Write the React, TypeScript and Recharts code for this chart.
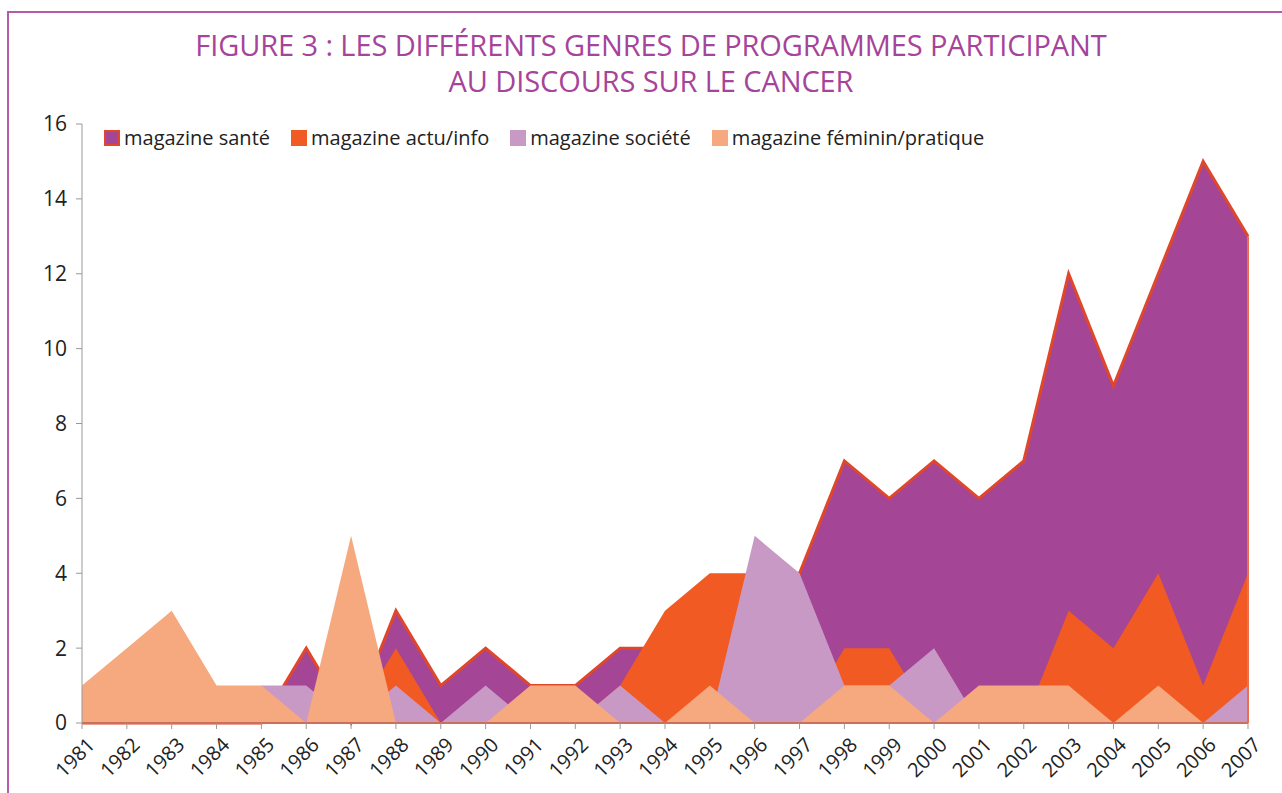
import React from "react";
import { AreaChart, Area, XAxis, YAxis, ReferenceLine } from "recharts";

const years = [
  "1981", "1982", "1983", "1984", "1985", "1986", "1987", "1988", "1989",
  "1990", "1991", "1992", "1993", "1994", "1995", "1996", "1997", "1998",
  "1999", "2000", "2001", "2002", "2003", "2004", "2005", "2006", "2007",
];
const sante = [0, 0, 0, 0, 0, 2, 0, 3, 1, 2, 1, 1, 2, 2, 3, 4, 4, 7, 6, 7, 6, 7, 12, 9, 12, 15, 13];
const actu = [0, 0, 0, 0, 0, 0, 0, 2, 0, 0, 0, 0, 1, 3, 4, 4, 0, 2, 2, 0, 0, 0, 3, 2, 4, 1, 4];
const societe = [0, 0, 0, 0, 1, 1, 0, 1, 0, 1, 0, 0, 1, 0, 0, 5, 4, 1, 1, 2, 0, 0, 0, 0, 0, 0, 1];
const feminin = [1, 2, 3, 1, 1, 0, 5, 0, 0, 0, 1, 1, 0, 0, 1, 0, 0, 1, 1, 0, 1, 1, 1, 0, 1, 0, 0];
const yTicks = [0, 2, 4, 6, 8, 10, 12, 14, 16];

const series = [
  { key: "sante", name: "magazine santé", fill: "#a44596", stroke: "#e0472a" },
  { key: "actu", name: "magazine actu/info", fill: "#f15a22", stroke: "none" },
  { key: "societe", name: "magazine société", fill: "#c899c5", stroke: "none" },
  { key: "feminin", name: "magazine féminin/pratique", fill: "#f6a87e", stroke: "none" },
];

const data = years.map((y, i) => ({
  year: y,
  sante: sante[i],
  actu: actu[i],
  societe: societe[i],
  feminin: feminin[i],
}));

const lastYear = years[years.length - 1];
const lastSante = sante[sante.length - 1];

const FONT = "'Open Sans', sans-serif";

const YearTick = (props: any) => {
  const { x, y, payload } = props;
  return (
    <g transform={`translate(${x + 4},${y + 5}) rotate(-45)`}>
      <text textAnchor="end" dy="0.72em" fontSize={20} fontFamily={FONT} fill="#222">
        {payload.value}
      </text>
    </g>
  );
};

// legend drawn as plain html above the plot, so it does not push the plot down
const LegendBox = () => (
  <div
    style={{
      position: "absolute",
      left: 104,
      top: 126,
      display: "flex",
      fontFamily: FONT,
      fontSize: 20,
      lineHeight: "24px",
      color: "#222",
    }}
  >
    {series.map((s) => (
      <div key={s.key} style={{ display: "flex", alignItems: "center", marginRight: 21 }}>
        <span
          style={{
            display: "inline-block",
            width: s.stroke !== "none" ? 12 : 16,
            height: s.stroke !== "none" ? 12 : 16,
            background: s.fill,
            border: s.stroke !== "none" ? `2px solid ${s.stroke}` : "none",
            marginRight: 4,
          }}
        />
        <span>{s.name}</span>
      </div>
    ))}
  </div>
);

export default function App() {
  return (
    <div style={{ position: "absolute", left: 0, top: 0, width: 1282, height: 793, background: "#fff", overflow: "hidden" }}>
      <div
        style={{
          position: "absolute",
          left: 7,
          top: 11,
          width: 1400,
          height: 900,
          borderLeft: "2px solid #b65aab",
          borderTop: "2px solid #b65aab",
        }}
      />
      <div
        style={{
          position: "absolute",
          left: 0,
          top: 27,
          width: 1302,
          textAlign: "center",
          fontFamily: FONT,
          fontSize: 29,
          lineHeight: "36px",
          color: "#a5449a",
          letterSpacing: -0.1,
        }}
      >
        FIGURE 3 : LES DIFFÉRENTS GENRES DE PROGRAMMES PARTICIPANT
        <br />
        AU DISCOURS SUR LE CANCER
      </div>
      <div style={{ position: "absolute", left: 0, top: 0 }}>
        <AreaChart
          width={1282}
          height={793}
          data={data}
          margin={{ top: 124, right: 34, left: 0, bottom: 0 }}
        >
          <XAxis
            dataKey="year"
            interval={0}
            height={70}
            axisLine={{ stroke: "#c8705c", strokeWidth: 2 }}
            tickLine={{ stroke: "#999" }}
            tickSize={6}
            tick={<YearTick />}
          />
          <YAxis
            width={82}
            domain={[0, 16]}
            ticks={yTicks}
            interval={0}
            axisLine={{ stroke: "#999" }}
            tickLine={{ stroke: "#999" }}
            tickSize={6}
            tickMargin={9}
            tick={{ fontSize: 21, fontFamily: FONT, fill: "#222" }}
          />
          {series.map((s) => (
            <Area
              key={s.key}
              type="linear"
              dataKey={s.key}
              name={s.name}
              fill={s.fill}
              fillOpacity={1}
              stroke={s.stroke}
              strokeWidth={s.stroke !== "none" ? 3 : 0}
              isAnimationActive={false}
              dot={false}
              activeDot={false}
            />
          ))}
          <ReferenceLine
            segment={[
              { x: lastYear, y: 0 },
              { x: lastYear, y: lastSante },
            ]}
            stroke="#e8704a"
            strokeWidth={2}
          />
        </AreaChart>
      </div>
      <LegendBox />
    </div>
  );
}
